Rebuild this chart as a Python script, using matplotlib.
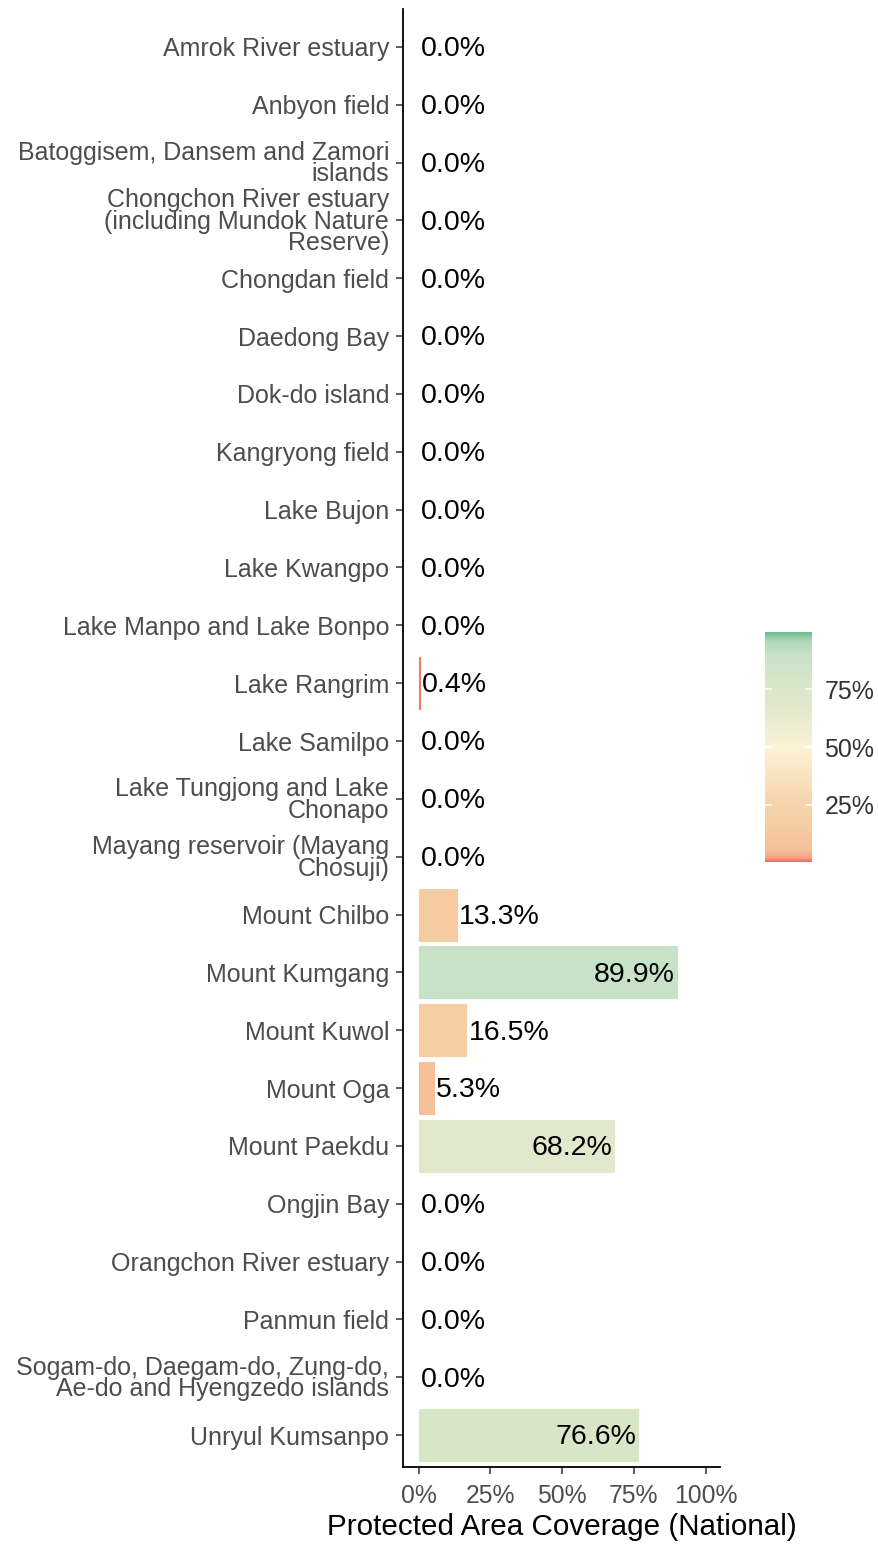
import numpy as np
import matplotlib
matplotlib.use("Agg")
import matplotlib.pyplot as plt
from matplotlib.colors import LinearSegmentedColormap, Normalize
from matplotlib.cm import ScalarMappable

plt.rcParams["font.family"] = ["Liberation Sans", "DejaVu Sans"]

# ── Data ───────────────────────────────────────
sites = [
    "Amrok River estuary",
    "Anbyon field",
    "Batoggisem, Dansem and Zamori\nislands",
    "Chongchon River estuary\n(including Mundok Nature\nReserve)",
    "Chongdan field",
    "Daedong Bay",
    "Dok-do island",
    "Kangryong field",
    "Lake Bujon",
    "Lake Kwangpo",
    "Lake Manpo and Lake Bonpo",
    "Lake Rangrim",
    "Lake Samilpo",
    "Lake Tungjong and Lake\nChonapo",
    "Mayang reservoir (Mayang\nChosuji)",
    "Mount Chilbo",
    "Mount Kumgang",
    "Mount Kuwol",
    "Mount Oga",
    "Mount Paekdu",
    "Ongjin Bay",
    "Orangchon River estuary",
    "Panmun field",
    "Sogam-do, Daegam-do, Zung-do,\nAe-do and Hyengzedo islands",
    "Unryul Kumsanpo",
]
coverage = [0.0, 0.0, 0.0, 0.0, 0.0, 0.0, 0.0, 0.0, 0.0, 0.0, 0.0, 0.4, 0.0,
            0.0, 0.0, 13.3, 89.9, 16.5, 5.3, 68.2, 0.0, 0.0, 0.0, 0.0, 76.6]
cbar_ticks = [25, 50, 75]

# ── Colour scale ───────────────────────────────
cmap = LinearSegmentedColormap.from_list("pa", [
    (0.00, "#ef6f66"),
    (0.02, "#f3a584"),
    (0.05, "#f5bf98"),
    (0.15, "#f5cda3"),
    (0.25, "#f6d3aa"),
    (0.50, "#fbf3d6"),
    (0.68, "#e1e8cc"),
    (0.77, "#d8e6c8"),
    (0.90, "#c8e2c8"),
    (0.96, "#b2d8b9"),
    (1.00, "#6dbb8e"),
])
norm = Normalize(0, 100)

# ── Plot ───────────────────────────────────────
fig = plt.figure(figsize=(8.79, 15.45), dpi=100)
ax = fig.add_axes([0.4585, 0.0505, 0.819 - 0.4585, 0.9435])

y = np.arange(len(sites))
colors = cmap(norm(coverage))
widths = [0.8 if v > 0 else 0 for v in coverage]
ax.barh(y, coverage, height=0.9, color=colors, edgecolor=colors, linewidth=widths)

for yi, v in zip(y, coverage):
    if v >= 50:
        ax.text(v - 0.8, yi + 0.04, f"{v:.1f}%", ha="right", va="center", fontsize=20.5, color="black")
    else:
        ax.text(v + 0.8, yi + 0.04, f"{v:.1f}%", ha="left", va="center", fontsize=20.5, color="black")

ax.set_xlim(-5.5, 105)
ax.set_ylim(len(sites) - 0.45, -0.65)
ax.set_yticks(y)
ax.set_yticklabels(sites, fontsize=18, color="#4d4d4d", linespacing=0.86)
ax.set_xticks([0, 25, 50, 75, 100])
ax.set_xticklabels(["0%", "25%", "50%", "75%", "100%"], fontsize=17.8, color="#4d4d4d")
ax.tick_params(length=5, width=1.1, color="#333333")
ax.tick_params(axis="x", pad=7)
ax.tick_params(axis="y", pad=5)
for s in ["top", "right"]:
    ax.spines[s].set_visible(False)
for s in ["left", "bottom"]:
    ax.spines[s].set_linewidth(1.3)
ax.set_xlabel("Protected Area Coverage (National)", fontsize=21.3, labelpad=4)

# ── Colour bar ─────────────────────────────────
cax = fig.add_axes([0.870, 0.442, 0.0535, 0.149])
cb = fig.colorbar(ScalarMappable(norm=norm, cmap=cmap), cax=cax, ticks=cbar_ticks)
cb.outline.set_visible(False)
cb.ax.set_yticklabels([f"{t}%" for t in cbar_ticks], fontsize=18, color="#333333")
cb.ax.tick_params(direction="in", length=5, color="white", width=1.2, left=True, right=True, pad=9)

fig.savefig("out.png", dpi=100)
